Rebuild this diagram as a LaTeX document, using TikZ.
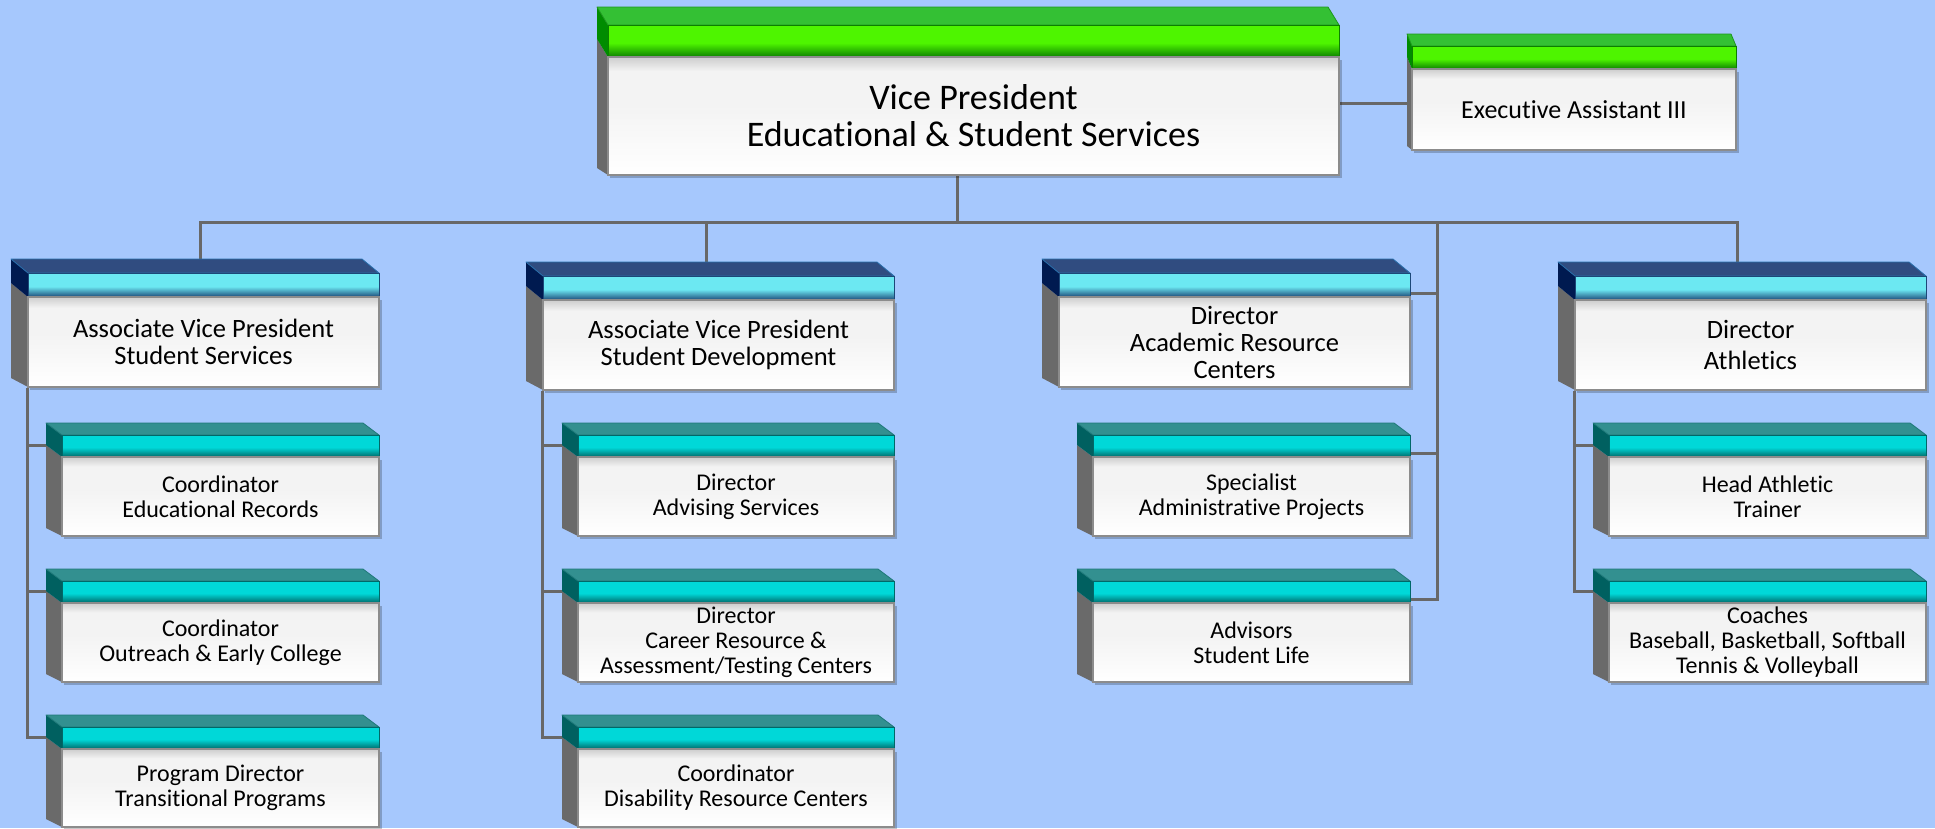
\documentclass[tikz,border=0pt]{standalone}
\usepackage{fontspec}
\setmainfont{Carlito}[Ligatures={NoCommon}]
\usetikzlibrary{calc}
\pgfdeclarelayer{bg}
\pgfsetlayers{bg,main}
% colours
\definecolor{bgc}{RGB}{166,200,253}
\definecolor{connc}{RGB}{104,104,104}
\definecolor{sidegray}{RGB}{106,106,106}
\definecolor{bodyline}{RGB}{140,140,140}
\definecolor{bodytop}{RGB}{205,205,205}
\definecolor{bodymid}{RGB}{243,243,243}
\definecolor{vptop}{RGB}{52,192,52}
\definecolor{vptopd}{RGB}{30,150,30}
\definecolor{vphdr}{RGB}{78,245,0}
\definecolor{vphdrd}{RGB}{12,128,0}
\definecolor{vpside}{RGB}{0,140,0}
\definecolor{eatop}{RGB}{52,192,52}
\definecolor{eatopd}{RGB}{30,150,30}
\definecolor{eahdr}{RGB}{78,245,0}
\definecolor{eahdrd}{RGB}{12,128,0}
\definecolor{easide}{RGB}{0,140,0}
\definecolor{lttop}{RGB}{48,76,128}
\definecolor{lttopd}{RGB}{40,110,170}
\definecolor{lthdr}{RGB}{108,232,242}
\definecolor{lthdrd}{RGB}{28,72,120}
\definecolor{ltside}{RGB}{0,26,80}
\definecolor{lbtop}{RGB}{51,144,144}
\definecolor{lbtopd}{RGB}{30,120,120}
\definecolor{lbhdr}{RGB}{0,216,216}
\definecolor{lbhdrd}{RGB}{0,104,104}
\definecolor{lbside}{RGB}{0,96,96}
% shadings
\newcommand{\mkhsh}[1]{\pgfdeclareverticalshading{#1hsh}{100bp}{color(0bp)=(#1hdrd); color(25bp)=(#1hdrd); color(47bp)=(#1hdr); color(100bp)=(#1hdr)}}
\mkhsh{vp}\mkhsh{ea}\mkhsh{lt}\mkhsh{lb}
\pgfdeclareverticalshading{bodysh}{100bp}{color(0bp)=(white); color(25bp)=(white); color(55bp)=(bodymid); color(69bp)=(bodymid); color(75bp)=(bodytop); color(100bp)=(bodytop)}
% geometry per kind
\def\vphh{32}\def\vpdx{-11}\def\vpdy{-18}\def\vpby{-7}
\def\eahh{23}\def\eadx{-5}\def\eady{-12}\def\eaby{-4}
\def\lthh{24}\def\ltdx{-17}\def\ltdy{-14}\def\ltby{-9}
\def\lbhh{22}\def\lbdx{-16}\def\lbdy{-12}\def\lbby{-8}
\tikzset{
  bodybox/.style={shade, shading=bodysh, draw=bodyline, line width=1.2pt, inner sep=0pt, align=center, text=black},
  vptext/.style={font=\fontsize{36}{37}\selectfont},
  eatext/.style={font=\fontsize{26}{27}\selectfont},
  lttext/.style={font=\fontsize{26.5}{27}\selectfont},
  lbtext/.style={font=\fontsize{24}{25}\selectfont},
  connline/.style={draw=connc, line width=3pt},
  boxshadow/.style={fill=black, opacity=0.22},
}
% #1 kind, #2 name, #3 x1, #4 y1 (header top), #5 x2, #6 y2 (bottom), #7 text
\newcommand{\orgbox}[7]{%
  \edef\hh{\csname #1hh\endcsname}%
  \edef\ddx{\csname #1dx\endcsname}%
  \edef\ddy{\csname #1dy\endcsname}%
  \edef\bdy{\csname #1by\endcsname}%
  \fill[boxshadow] (#3+2,#4+\hh+3) rectangle (#5+3,#6+3);
  \fill[sidegray] (#3,#4+\hh) -- (#3+\ddx,#4+\hh+\ddy) -- (#3+\ddx,#6+\bdy) -- (#3,#6) -- cycle;
  \fill[#1side] (#3,#4) -- (#3+\ddx,#4+\ddy) -- (#3+\ddx,#4+\hh+\ddy) -- (#3,#4+\hh) -- cycle;
  \filldraw[fill=#1top, draw=#1topd, line width=0.8pt, line join=round] (#3,#4) -- (#3+\ddx,#4+\ddy) -- (#5+\ddx,#4+\ddy) -- (#5,#4) -- cycle;
  \shade[shading=#1hsh] (#3,#4) rectangle (#5,#4+\hh);
  \draw[#1hdrd, line width=0.8pt] (#3,#4) rectangle (#5,#4+\hh);
  \node[bodybox, #1text, minimum width={#5-#3}, minimum height={#6-#4-\hh}] (#2) at ({(#3+#5)/2},{(#4+\hh+#6)/2}) {#7};
}
\begin{document}
\begin{tikzpicture}[x=1pt,y=-1pt]
\useasboundingbox (0,0) rectangle (1935,828);
\begin{pgfonlayer}{bg}
  \fill[bgc] (0,0) rectangle (1935,828);
\end{pgfonlayer}
% top level
\orgbox{vp}{vp}{608}{25}{1339}{175}{Vice President\\Educational \& Student Services}
\orgbox{ea}{ea}{1412}{46}{1736}{150}{Executive Assistant III}
% level 2
\orgbox{lt}{l2a}{28}{273}{379}{387}{Associate Vice President\\Student Services}
\orgbox{lt}{l2b}{543}{276}{894}{390}{Associate Vice President\\Student Development}
\orgbox{lt}{l2c}{1059}{273}{1410}{387}{Director\\Academic Resource\\Centers}
\orgbox{lt}{l2d}{1575}{276}{1926}{390}{Director\\[4pt]Athletics}
% level 3, column 1
\orgbox{lb}{l3a1}{62}{435}{379}{536}{Coordinator\\Educational Records}
\orgbox{lb}{l3a2}{62}{581}{379}{682}{Coordinator\\Outreach \& Early College}
\orgbox{lb}{l3a3}{62}{727}{379}{827}{Program Director\\Transitional Programs}
% column 2
\orgbox{lb}{l3b1}{578}{435}{894}{536}{Director\\Advising Services}
\orgbox{lb}{l3b2}{578}{581}{894}{682}{Director\\Career Resource \&\\Assessment/Testing Centers}
\orgbox{lb}{l3b3}{578}{727}{894}{827}{Coordinator\\Disability Resource Centers}
% column 3
\orgbox{lb}{l3c1}{1093}{435}{1410}{536}{Specialist\\Administrative Projects}
\orgbox{lb}{l3c2}{1093}{581}{1410}{682}{Advisors\\Student Life}
% column 4
\orgbox{lb}{l3d1}{1609}{435}{1926}{536}{Head Athletic\\Trainer}
\orgbox{lb}{l3d2}{1609}{581}{1926}{682}{Coaches\\Baseball, Basketball, Softball\\Tennis \& Volleyball}
% connectors
\begin{pgfonlayer}{bg}
  \coordinate (vpdrop) at ([xshift=-16pt]vp.south);
  \coordinate (bus) at ([yshift=-47pt]vpdrop);
  \draw[connline] (vpdrop) -- (bus);
  \draw[connline] ([yshift=13pt]vp.east) -- ([yshift=13pt]vp.east -| ea.west);
  \draw[connline] (bus) -| ([xshift=-3pt]l2a.north);
  \draw[connline] (bus) -| ([xshift=-12pt]l2b.north);
  \draw[connline] (bus) -| ([xshift=-13pt]l2d.north);
  \draw[connline] (bus) -| ([xshift=27pt,yshift=3pt]l3c2.north east) -- ([yshift=3pt]l3c2.north east);
  \draw[connline] ([yshift=3pt]l2c.north east) -- ([xshift=27pt,yshift=3pt]l2c.north east);
  \draw[connline] ([yshift=3pt]l3c1.north east) -- ([xshift=27pt,yshift=3pt]l3c1.north east);
  \draw[connline] ([yshift=11pt]l3a1.north west) -| (l2a.south west);
  \draw[connline] ([yshift=11pt]l3a2.north west) -| (l2a.south west);
  \draw[connline] ([yshift=11pt]l3a3.north west) -| (l2a.south west);
  \draw[connline] ([yshift=11pt]l3b1.north west) -| (l2b.south west);
  \draw[connline] ([yshift=11pt]l3b2.north west) -| (l2b.south west);
  \draw[connline] ([yshift=11pt]l3b3.north west) -| (l2b.south west);
  \draw[connline] ([yshift=11pt]l3d1.north west) -| (l2d.south west);
  \draw[connline] ([yshift=11pt]l3d2.north west) -| (l2d.south west);
\end{pgfonlayer}
\end{tikzpicture}
\end{document}
